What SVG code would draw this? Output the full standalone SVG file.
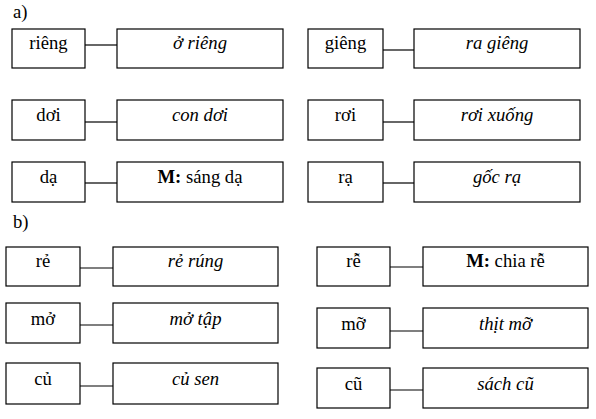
<svg xmlns="http://www.w3.org/2000/svg" width="596" height="419" viewBox="0 0 596 419">
<text font-family="Liberation Serif" font-size="18.67" x="13" y="18">a)</text>
<text font-family="Liberation Serif" font-size="18.67" x="13" y="228">b)</text>
<g id="connectors" stroke="#000" stroke-width="1.2">
<line x1="85" y1="45" x2="117" y2="45"/>
<line x1="85" y1="122" x2="117" y2="122"/>
<line x1="85" y1="183" x2="117" y2="183"/>
<line x1="383" y1="50" x2="414" y2="50"/>
<line x1="383" y1="122" x2="414" y2="122"/>
<line x1="383" y1="183" x2="414" y2="183"/>
<line x1="80" y1="268" x2="113" y2="268"/>
<line x1="80" y1="325" x2="113" y2="325"/>
<line x1="80" y1="386" x2="113" y2="386"/>
<line x1="390" y1="267" x2="423" y2="267"/>
<line x1="390" y1="331" x2="423" y2="331"/>
<line x1="390" y1="390" x2="423" y2="390"/>
</g>
<g id="n-rieng"><rect x="12" y="29" width="73" height="39" fill="#fff" stroke="#000" stroke-width="1.2"/><text font-family="Liberation Serif" font-size="18.67" text-anchor="middle" x="48.5" y="49">riêng</text></g>
<g id="n-o-rieng"><rect x="117" y="29" width="166" height="39" fill="#fff" stroke="#000" stroke-width="1.2"/><text font-family="Liberation Serif" font-size="18.67" text-anchor="middle" font-style="italic" x="200" y="49">ở riêng</text></g>
<g id="n-doi"><rect x="12" y="100" width="73" height="40" fill="#fff" stroke="#000" stroke-width="1.2"/><text font-family="Liberation Serif" font-size="18.67" text-anchor="middle" x="48.5" y="121">dơi</text></g>
<g id="n-con-doi"><rect x="117" y="100" width="166" height="40" fill="#fff" stroke="#000" stroke-width="1.2"/><text font-family="Liberation Serif" font-size="18.67" text-anchor="middle" font-style="italic" x="200" y="121">con dơi</text></g>
<g id="n-da"><rect x="12" y="162" width="73" height="40" fill="#fff" stroke="#000" stroke-width="1.2"/><text font-family="Liberation Serif" font-size="18.67" text-anchor="middle" x="48.5" y="183">dạ</text></g>
<g id="n-sang-da"><rect x="117" y="162" width="166" height="40" fill="#fff" stroke="#000" stroke-width="1.2"/><text font-family="Liberation Serif" font-size="18.67" text-anchor="middle" x="200" y="183"><tspan font-weight="bold">M:</tspan> sáng dạ</text></g>
<g id="n-gieng"><rect x="308" y="29" width="75" height="39" fill="#fff" stroke="#000" stroke-width="1.2"/><text font-family="Liberation Serif" font-size="18.67" text-anchor="middle" x="345.5" y="49">giêng</text></g>
<g id="n-ra-gieng"><rect x="414" y="29" width="166" height="39" fill="#fff" stroke="#000" stroke-width="1.2"/><text font-family="Liberation Serif" font-size="18.67" text-anchor="middle" font-style="italic" x="497" y="49">ra giêng</text></g>
<g id="n-roi"><rect x="308" y="100" width="75" height="40" fill="#fff" stroke="#000" stroke-width="1.2"/><text font-family="Liberation Serif" font-size="18.67" text-anchor="middle" x="345.5" y="121">rơi</text></g>
<g id="n-roi-xuong"><rect x="414" y="100" width="166" height="40" fill="#fff" stroke="#000" stroke-width="1.2"/><text font-family="Liberation Serif" font-size="18.67" text-anchor="middle" font-style="italic" x="497" y="121">rơi xuống</text></g>
<g id="n-ra"><rect x="308" y="162" width="75" height="40" fill="#fff" stroke="#000" stroke-width="1.2"/><text font-family="Liberation Serif" font-size="18.67" text-anchor="middle" x="345.5" y="183">rạ</text></g>
<g id="n-goc-ra"><rect x="414" y="162" width="166" height="40" fill="#fff" stroke="#000" stroke-width="1.2"/><text font-family="Liberation Serif" font-size="18.67" text-anchor="middle" font-style="italic" x="497" y="183">gốc rạ</text></g>
<g id="n-re"><rect x="6" y="247" width="74" height="39" fill="#fff" stroke="#000" stroke-width="1.2"/><text font-family="Liberation Serif" font-size="18.67" text-anchor="middle" x="43" y="267">rẻ</text></g>
<g id="n-re-rung"><rect x="113" y="247" width="165" height="39" fill="#fff" stroke="#000" stroke-width="1.2"/><text font-family="Liberation Serif" font-size="18.67" text-anchor="middle" font-style="italic" x="195.5" y="267">rẻ rúng</text></g>
<g id="n-mo"><rect x="6" y="303" width="74" height="40" fill="#fff" stroke="#000" stroke-width="1.2"/><text font-family="Liberation Serif" font-size="18.67" text-anchor="middle" x="43" y="325">mở</text></g>
<g id="n-mo-tap"><rect x="113" y="303" width="165" height="40" fill="#fff" stroke="#000" stroke-width="1.2"/><text font-family="Liberation Serif" font-size="18.67" text-anchor="middle" font-style="italic" x="195.5" y="325">mở tập</text></g>
<g id="n-cu"><rect x="6" y="363" width="74" height="41" fill="#fff" stroke="#000" stroke-width="1.2"/><text font-family="Liberation Serif" font-size="18.67" text-anchor="middle" x="43" y="385">củ</text></g>
<g id="n-cu-sen"><rect x="113" y="363" width="165" height="41" fill="#fff" stroke="#000" stroke-width="1.2"/><text font-family="Liberation Serif" font-size="18.67" text-anchor="middle" font-style="italic" x="195.5" y="385">củ sen</text></g>
<g id="n-re2"><rect x="317" y="247" width="73" height="39" fill="#fff" stroke="#000" stroke-width="1.2"/><text font-family="Liberation Serif" font-size="18.67" text-anchor="middle" x="353.5" y="267">rễ</text></g>
<g id="n-chia-re"><rect x="423" y="247" width="165" height="39" fill="#fff" stroke="#000" stroke-width="1.2"/><text font-family="Liberation Serif" font-size="18.67" text-anchor="middle" x="505.5" y="267"><tspan font-weight="bold">M:</tspan> chia rễ</text></g>
<g id="n-mo2"><rect x="317" y="308" width="73" height="40" fill="#fff" stroke="#000" stroke-width="1.2"/><text font-family="Liberation Serif" font-size="18.67" text-anchor="middle" x="353.5" y="330">mỡ</text></g>
<g id="n-thit-mo"><rect x="423" y="308" width="165" height="40" fill="#fff" stroke="#000" stroke-width="1.2"/><text font-family="Liberation Serif" font-size="18.67" text-anchor="middle" font-style="italic" x="505.5" y="330">thịt mỡ</text></g>
<g id="n-cu2"><rect x="317" y="368" width="73" height="40" fill="#fff" stroke="#000" stroke-width="1.2"/><text font-family="Liberation Serif" font-size="18.67" text-anchor="middle" x="353.5" y="390">cũ</text></g>
<g id="n-sach-cu"><rect x="423" y="368" width="165" height="40" fill="#fff" stroke="#000" stroke-width="1.2"/><text font-family="Liberation Serif" font-size="18.67" text-anchor="middle" font-style="italic" x="505.5" y="390">sách cũ</text></g>
</svg>
